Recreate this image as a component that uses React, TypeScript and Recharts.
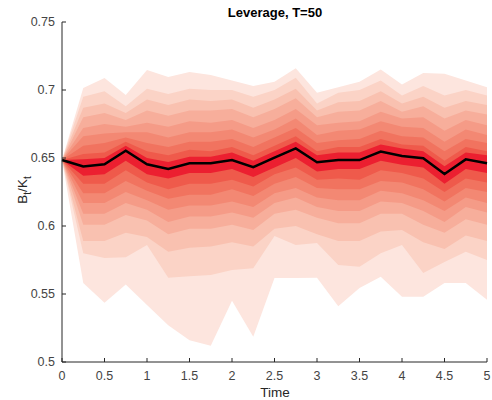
import { ComposedChart, Area, Line, XAxis, YAxis } from "recharts";

const times = [0, 0.25, 0.5, 0.75, 1, 1.25, 1.5, 1.75, 2, 2.25, 2.5, 2.75, 3, 3.25, 3.5, 3.75, 4, 4.25, 4.5, 4.75, 5];

// percentiles of B_t/K_t across simulations
const p95 = [0.6485, 0.7015, 0.7088, 0.6963, 0.7147, 0.7096, 0.7132, 0.711, 0.707, 0.703, 0.706, 0.716, 0.698, 0.702, 0.706, 0.715, 0.704, 0.7125, 0.712, 0.707, 0.702];
const p90 = [0.6485, 0.695, 0.699, 0.688, 0.701, 0.697, 0.701, 0.7, 0.7, 0.695, 0.7, 0.709, 0.69, 0.698, 0.7, 0.707, 0.696, 0.703, 0.696, 0.7, 0.696];
const p85 = [0.6485, 0.687, 0.69, 0.683, 0.693, 0.689, 0.693, 0.692, 0.693, 0.687, 0.693, 0.701, 0.685, 0.691, 0.692, 0.699, 0.69, 0.695, 0.687, 0.692, 0.689];
const p80 = [0.6485, 0.68, 0.683, 0.678, 0.685, 0.681, 0.685, 0.685, 0.686, 0.68, 0.686, 0.694, 0.68, 0.684, 0.685, 0.692, 0.684, 0.688, 0.679, 0.685, 0.682];
const p75 = [0.6485, 0.672, 0.675, 0.673, 0.676, 0.673, 0.677, 0.676, 0.678, 0.672, 0.678, 0.686, 0.674, 0.676, 0.677, 0.684, 0.679, 0.68, 0.67, 0.678, 0.674];
const p70 = [0.6485, 0.666, 0.668, 0.669, 0.669, 0.665, 0.669, 0.669, 0.671, 0.665, 0.671, 0.679, 0.667, 0.67, 0.671, 0.677, 0.673, 0.672, 0.662, 0.671, 0.667];
const p65 = [0.6485, 0.659, 0.661, 0.665, 0.661, 0.658, 0.662, 0.662, 0.664, 0.658, 0.665, 0.672, 0.661, 0.663, 0.664, 0.67, 0.666, 0.665, 0.655, 0.664, 0.661];
const p60 = [0.6485, 0.653, 0.654, 0.662, 0.655, 0.652, 0.656, 0.655, 0.658, 0.652, 0.659, 0.666, 0.655, 0.658, 0.658, 0.664, 0.66, 0.659, 0.648, 0.658, 0.655];
const p55 = [0.6485, 0.649, 0.65, 0.659, 0.65, 0.647, 0.651, 0.651, 0.654, 0.648, 0.655, 0.662, 0.652, 0.654, 0.654, 0.66, 0.657, 0.655, 0.644, 0.654, 0.652];
const p50 = [0.6485, 0.6437, 0.6454, 0.6554, 0.6454, 0.642, 0.6461, 0.6461, 0.6485, 0.6432, 0.6502, 0.6571, 0.6469, 0.6485, 0.6485, 0.6547, 0.6515, 0.6498, 0.6383, 0.649, 0.6461];
const p45 = [0.6485, 0.637, 0.638, 0.648, 0.638, 0.635, 0.639, 0.639, 0.642, 0.636, 0.643, 0.65, 0.64, 0.642, 0.642, 0.648, 0.645, 0.643, 0.631, 0.642, 0.639];
const p40 = [0.6485, 0.631, 0.631, 0.641, 0.632, 0.627, 0.631, 0.631, 0.634, 0.629, 0.638, 0.643, 0.634, 0.635, 0.634, 0.641, 0.639, 0.635, 0.625, 0.635, 0.632];
const p35 = [0.6485, 0.624, 0.624, 0.633, 0.626, 0.62, 0.623, 0.623, 0.627, 0.622, 0.631, 0.636, 0.628, 0.627, 0.627, 0.633, 0.632, 0.627, 0.618, 0.628, 0.625];
const p30 = [0.6485, 0.617, 0.617, 0.625, 0.619, 0.612, 0.615, 0.615, 0.618, 0.614, 0.624, 0.628, 0.621, 0.619, 0.619, 0.626, 0.624, 0.619, 0.611, 0.621, 0.617];
const p25 = [0.6485, 0.609, 0.609, 0.617, 0.612, 0.603, 0.607, 0.607, 0.61, 0.606, 0.617, 0.621, 0.614, 0.611, 0.611, 0.618, 0.617, 0.611, 0.603, 0.614, 0.61];
const p20 = [0.6485, 0.601, 0.601, 0.608, 0.604, 0.594, 0.598, 0.598, 0.601, 0.597, 0.609, 0.612, 0.606, 0.602, 0.602, 0.609, 0.609, 0.601, 0.595, 0.605, 0.601];
const p15 = [0.6485, 0.589, 0.589, 0.595, 0.592, 0.581, 0.584, 0.585, 0.588, 0.585, 0.598, 0.6, 0.594, 0.589, 0.589, 0.596, 0.597, 0.588, 0.583, 0.593, 0.589];
const p10 = [0.6485, 0.58, 0.5765, 0.577, 0.586, 0.562, 0.563, 0.564, 0.5677, 0.569, 0.5927, 0.586, 0.5875, 0.5714, 0.57, 0.58, 0.586, 0.5655, 0.5735, 0.581, 0.575];
const p05 = [0.6485, 0.558, 0.5435, 0.557, 0.542, 0.527, 0.516, 0.512, 0.545, 0.5185, 0.5617, 0.5617, 0.562, 0.541, 0.5545, 0.5626, 0.548, 0.548, 0.558, 0.558, 0.5457];

const lowers = [p05, p10, p15, p20, p25, p30, p35, p40, p45];
const uppers = [p95, p90, p85, p80, p75, p70, p65, p60, p55];
const bandColors = ["#fde5de", "#fbd3c6", "#f9c1b0", "#f7ae9b", "#f59b87", "#f38873", "#f1735f", "#ef5a4b", "#ec1f30"];

const xTicks = [0, 0.5, 1, 1.5, 2, 2.5, 3, 3.5, 4, 4.5, 5];
const yTicks = [0.5, 0.55, 0.6, 0.65, 0.7, 0.75];

const data = times.map((t, i) => {
  const row: Record<string, number | number[]> = { t, med: p50[i] };
  lowers.forEach((lo, k) => {
    row[`b${k}`] = [lo[i], uppers[k][i]];
  });
  return row;
});

const font = "'Liberation Sans', Arial, Helvetica, sans-serif";

export default function App() {
  return (
    <div style={{ position: "absolute", left: 0, top: 0, width: 492, height: 400, background: "#fff", fontFamily: font }}>
      <ComposedChart width={492} height={400} data={data} margin={{ top: 22, right: 5, left: 0, bottom: 0 }}>
        <XAxis
          type="number"
          dataKey="t"
          domain={[0, 5]}
          ticks={xTicks}
          height={38}
          tickSize={-4}
          tickMargin={13}
          stroke="#262626"
          tick={{ fontSize: 12.5, fill: "#444", fontFamily: font }}
        />
        <YAxis
          type="number"
          domain={[0.5, 0.75]}
          ticks={yTicks}
          width={62}
          tickSize={-4}
          tickMargin={11}
          stroke="#262626"
          tick={{ fontSize: 12.5, fill: "#444", fontFamily: font }}
        />
        {lowers.map((_, k) => (
          <Area
            key={k}
            type="linear"
            dataKey={`b${k}`}
            fill={bandColors[k]}
            fillOpacity={1}
            stroke="none"
            dot={false}
            activeDot={false}
            isAnimationActive={false}
          />
        ))}
        <Line
          type="linear"
          dataKey="med"
          stroke="#000"
          strokeWidth={2.5}
          dot={false}
          activeDot={false}
          isAnimationActive={false}
        />
      </ComposedChart>
      <svg width={492} height={400} style={{ position: "absolute", left: 0, top: 0, pointerEvents: "none" }}>
        <text x={275} y={17} textAnchor="middle" fontSize={13} fontWeight="bold" fill="#000" fontFamily={font}>
          Leverage, T=50
        </text>
        <text x={275} y={397} textAnchor="middle" fontSize={13.5} fill="#262626" fontFamily={font}>
          Time
        </text>
        <text transform="rotate(-90 27 190)" x={27} y={190} textAnchor="middle" fontSize={13.5} fill="#262626" fontFamily={font}>
          B<tspan fontSize={10} dy={4}>t</tspan>
          <tspan dy={-4}>/K</tspan>
          <tspan fontSize={10} dy={4}>t</tspan>
        </text>
      </svg>
    </div>
  );
}
